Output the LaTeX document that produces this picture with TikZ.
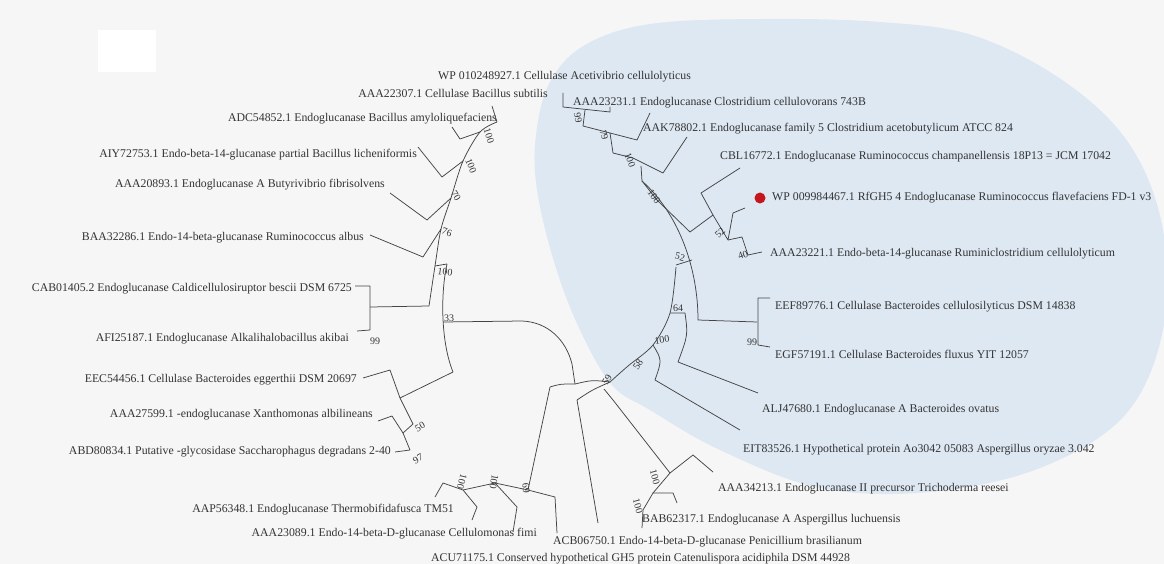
\documentclass[tikz,border=0pt]{standalone}
\usepackage{fontspec}
\setmainfont{Liberation Serif}
\usetikzlibrary{positioning}

\definecolor{fondo}{HTML}{F6F6F6}
\definecolor{azulclado}{HTML}{DEE8F3}
\definecolor{linea}{HTML}{444444}
\definecolor{texto}{HTML}{333333}
\definecolor{rojo}{HTML}{C4161C}

\tikzset{
  rama/.style={draw=linea, line width=0.75pt, line join=round},
  hojaizq/.style={anchor=east, inner sep=0pt, text height=8.5pt, text depth=0pt,
    text=texto, font=\fontsize{11.8}{12}\selectfont},
  hojader/.style={hojaizq, anchor=west},
  soporte/.style={inner sep=0pt, text=texto, font=\fontsize{10}{10}\selectfont}
}

\begin{document}
\begin{tikzpicture}[x=1pt,y=-1pt]
    % Fondo y marco
    \fill[fondo] (0,0) rectangle (1164,564);
    \useasboundingbox (0,0) rectangle (1164,564);
    \fill[white] (98,30) rectangle (156,72);

    % Contorno del clado
    \fill[azulclado] plot[smooth cycle, tension=0.6] coordinates {
      (537,190) (536,135) (550,82) (585,45) (650,24) (760,19) (880,22) (975,36)
      (1065,82) (1130,145) (1163,230) (1163,330) (1125,415) (1040,468) (930,492)
      (820,488) (720,450) (650,410) (612,385) (580,330) (555,265)};

    % Etiquetas del lado izquierdo
    \node[hojader] (wp0102) at (438,75) {WP 010248927.1 Cellulase Acetivibrio cellulolyticus};
    \node[hojaizq] (aaa22307) at (548,93) {AAA22307.1 Cellulase Bacillus subtilis};
    \node[hojaizq] (adc) at (497,117) {ADC54852.1 Endoglucanase Bacillus amyloliquefaciens};
    \node[hojaizq] (aiy) at (417,153) {AIY72753.1 Endo-beta-14-glucanase partial Bacillus licheniformis};
    \node[hojaizq] (aaa20893) at (385,183) {AAA20893.1 Endoglucanase A Butyrivibrio fibrisolvens};
    \node[hojaizq] (baa) at (364,236) {BAA32286.1 Endo-14-beta-glucanase Ruminococcus albus};
    \node[hojaizq] (cab) at (352,287) {CAB01405.2 Endoglucanase Caldicellulosiruptor bescii DSM 6725};
    \node[hojaizq] (afi) at (349,337) {AFI25187.1 Endoglucanase Alkalihalobacillus akibai};
    \node[hojaizq] (eec) at (357,378) {EEC54456.1 Cellulase Bacteroides eggerthii DSM 20697};
    \node[hojaizq] (aaa27599) at (373,413) {AAA27599.1 -endoglucanase Xanthomonas albilineans};
    \node[hojaizq] (abd) at (391,450) {ABD80834.1 Putative -glycosidase Saccharophagus degradans 2-40};
    \node[hojaizq] (aap) at (454,508) {AAP56348.1 Endoglucanase Thermobifidafusca TM51};
    \node[hojaizq] (aaa23089) at (537,532) {AAA23089.1 Endo-14-beta-D-glucanase Cellulomonas fimi};

    % Etiquetas de abajo y del lado derecho
    \node[hojader] (acb) at (553,540) {ACB06750.1 Endo-14-beta-D-glucanase Penicillium brasilianum};
    \node[hojader] (acu) at (431,557) {ACU71175.1 Conserved hypothetical GH5 protein Catenulispora acidiphila DSM 44928};
    \node[hojader] (bab) at (642,518) {BAB62317.1 Endoglucanase A Aspergillus luchuensis};
    \node[hojader] (aaa34213) at (718,487) {AAA34213.1 Endoglucanase II precursor Trichoderma reesei};
    \node[hojader] (eit) at (743,448) {EIT83526.1 Hypothetical protein Ao3042 05083 Aspergillus oryzae 3.042};
    \node[hojader] (alj) at (762,408) {ALJ47680.1 Endoglucanase A Bacteroides ovatus};
    \node[hojader] (egf) at (775,354) {EGF57191.1 Cellulase Bacteroides fluxus YIT 12057};
    \node[hojader] (eef) at (775,305) {EEF89776.1 Cellulase Bacteroides cellulosilyticus DSM 14838};
    \node[hojader] (aaa23221) at (770,252) {AAA23221.1 Endo-beta-14-glucanase Ruminiclostridium cellulolyticum};
    \node[hojader] (wp0099) at (772,196) {WP 009984467.1 RfGH5 4 Endoglucanase Ruminococcus flavefaciens FD-1 v3};
    \node[hojader] (cbl) at (720,155) {CBL16772.1 Endoglucanase Ruminococcus champanellensis 18P13 = JCM 17042};
    \node[hojader] (aak) at (643,127) {AAK78802.1 Endoglucanase family 5 Clostridium acetobutylicum ATCC 824};
    \node[hojader] (aaa23231) at (573,101) {AAA23231.1 Endoglucanase Clostridium cellulovorans 743B};

    % Secuencia de estudio
    \fill[rojo] (760,198) circle (5.5);

    % Clado izquierdo (Bacillus y otros)
    \coordinate (s0) at (497,122);
    \coordinate (s1) at (480,132);
    \coordinate (s2) at (463,161);
    \coordinate (s3) at (451,198);
    \coordinate (s4) at (441,229);
    \coordinate (s5) at (435,266);
    \coordinate (s6) at (429,306);
    \draw[rama] plot[smooth] coordinates {(s0) (s1) (s2) (s3) (s4) (s5) (s6)};
    \draw[rama] (492,106) -- (s0);
    \draw[rama] (452,127) -- (460,139) -- (s1);
    \draw[rama] (418,147) -- (442,177) -- (s2);
    \draw[rama] (390,193) -- (427,220) -- (s3);
    \draw[rama] (370,235) -- (423,257) -- (s4);
    \draw[rama] (355,286) -- (370,286) -- (370,330) -- (357,331);
    \draw[rama] (370,307) -- (s6);
    \draw[rama] (s5) -- (447,264);

    % Arco de la raiz
    \coordinate (r33) at (443,322);
    \coordinate (s7) at (453,372);
    \draw[rama] (447,264) .. controls (441,290) and (440,340) .. (s7);
    \draw[rama] (s7) -- (400,398);
    \draw[rama] (363,378) -- (390,370) -- (400,398) -- (413,424);
    \draw[rama] (378,421) -- (392,416) -- (403,433) -- (413,424);
    \draw[rama] (403,433) -- (410,450) -- (395,452);
    \draw[rama] (r33) -- (522,321) .. controls (548,322) and (566,340) .. (572,364) -- (575,384);

    % Clado inferior
    \coordinate (r2) at (575,384);
    \coordinate (n69) at (528,490);
    \draw[rama] (550,387) .. controls (560,384) .. (r2) .. controls (592,380) .. (610,382);
    \draw[rama] (550,387) -- (n69);
    \draw[rama] (495,483) -- (n69) -- (555,497) -- (557,533);
    \draw[rama] (463,490) -- (495,483) -- (517,507) -- (513,532);
    \draw[rama] (435,497) -- (443,483) -- (463,490) -- (477,507) -- (472,520);
    \draw[rama] (577,400) .. controls (592,390) .. (610,382);
    \draw[rama] (577,400) -- (598,523);
    \draw[rama] (604,389) -- (613,400) -- (670,473);
    \draw[rama] (653,493) -- (670,473) -- (693,455) -- (713,472);
    \draw[rama] (677,503) -- (673,493) -- (653,493) -- (643,510) -- (642,528);

    % Clado azul: parte superior
    \coordinate (b99) at (585,110);
    \coordinate (b79) at (610,133);
    \coordinate (b100) at (641,166);
    \coordinate (b100b) at (642,181);
    \draw[rama] (563,93) -- (563,107) -- (610,112) -- (610,107);
    \draw[rama] (b99) -- (583,126) -- (637,140) -- (650,113);
    \draw[rama] (b79) -- (613,153) -- (633,158) -- (663,173) -- (687,137);
    \draw[rama] (b100) -- (b100b);
    \draw[rama] (b100b) -- (657,200) -- (690,232) -- (713,215) -- (701,193) -- (740,168);
    \draw[rama] (713,215) -- (728,240) -- (733,213) -- (745,208);
    \draw[rama] (728,240) -- (742,237) -- (748,255) -- (762,252);
    \draw[rama] (b100b) .. controls (680,215) and (698,270) .. (698,320) -- (757,322);
    \draw[rama] (770,298) -- (758,298) -- (758,345) -- (770,347);

    % Clado azul: parte inferior
    \draw[rama] plot[smooth] coordinates {(610,382) (628,366) (653,345) (670,313) (676,267)};
    \draw[rama] (676,265) -- (692,260);
    \draw[rama] (670,313) -- (685,313) .. controls (688,335) .. (678,362) -- (758,393);
    \draw[rama] (653,345) .. controls (662,360) .. (655,380) -- (740,430);

    % Valores de soporte
    \node[soporte, rotate=-72] at (489,136) {100};
    \node[soporte, rotate=-68] at (471,166) {100};
    \node[soporte, rotate=-58] at (456,196) {70};
    \node[soporte, rotate=-20] at (447,232) {76};
    \node[soporte, rotate=-8] at (445,272) {100};
    \node[soporte] at (449,318) {33};
    \node[soporte] at (375,341) {99};
    \node[soporte, rotate=30] at (420,427) {50};
    \node[soporte, rotate=30] at (418,459) {97};
    \node[soporte, rotate=-105] at (462,482) {100};
    \node[soporte, rotate=-100] at (494,482) {100};
    \node[soporte, rotate=-85] at (526,488) {69};
    \node[soporte, rotate=-75] at (655,477) {100};
    \node[soporte, rotate=-75] at (638,506) {100};
    \node[soporte, rotate=60] at (607,380) {59};
    \node[soporte, rotate=55] at (638,365) {58};
    \node[soporte, rotate=8] at (662,340) {100};
    \node[soporte] at (678,308) {64};
    \node[soporte, rotate=-15] at (680,257) {52};
    \node[soporte, rotate=45] at (720,233) {52};
    \node[soporte, rotate=20] at (743,255) {40};
    \node[soporte] at (752,342) {99};
    \node[soporte, rotate=-55] at (654,197) {100};
    \node[soporte, rotate=-70] at (630,160) {100};
    \node[soporte, rotate=-75] at (604,135) {79};
    \node[soporte, rotate=-80] at (578,118) {99};
\end{tikzpicture}
\end{document}
